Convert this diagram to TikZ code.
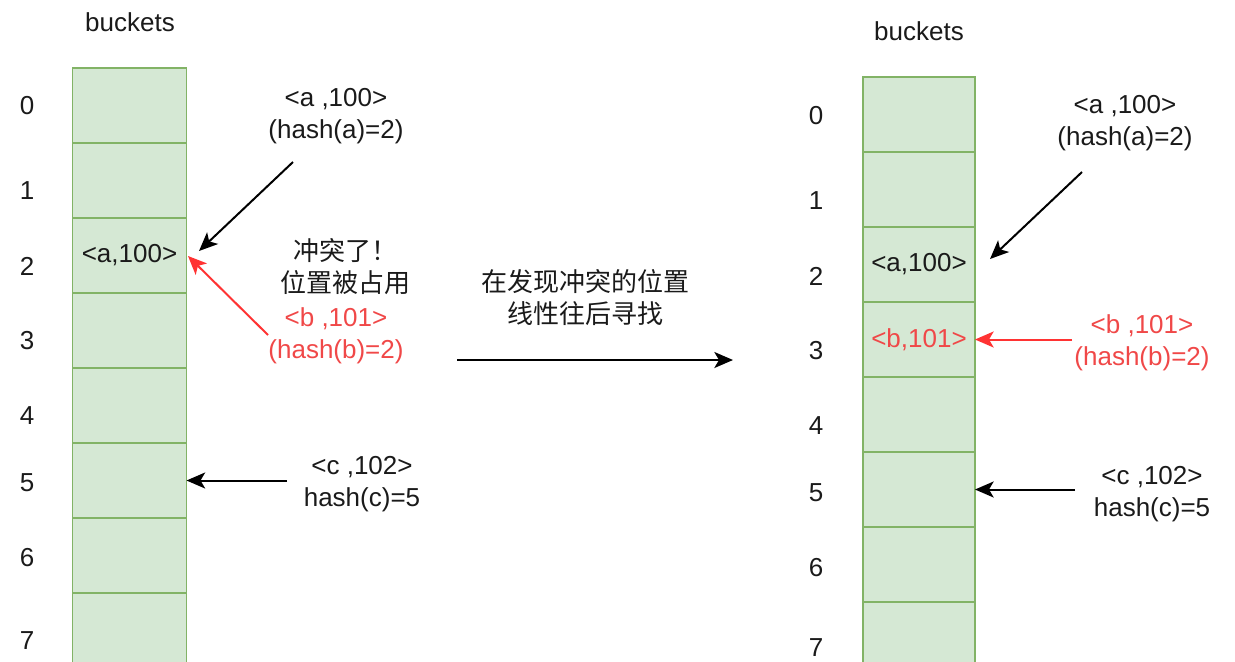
\documentclass[tikz,border=0pt]{standalone}
\usepackage{fontspec}
\setmainfont{Liberation Sans}
\newfontfamily\cjk{Noto Sans CJK SC}
\usetikzlibrary{arrows.meta}
\definecolor{cellfill}{HTML}{D5E8D4}
\definecolor{celldraw}{HTML}{82B366}
\definecolor{myred}{HTML}{FF3333}
\definecolor{redtext}{HTML}{F04848}
\definecolor{txt}{HTML}{1A1A1A}
\tikzset{
  cellL/.style={draw=celldraw, fill=cellfill, line width=1.3pt, minimum width=85.5pt, minimum height=56.25pt, inner sep=0pt, outer sep=0pt, font=\fontsize{19.5}{23}\selectfont, text=txt},
  cellR/.style={cellL, minimum width=84pt},
  lbl/.style={font=\fontsize{19.5}{24}\selectfont, text=txt, align=center, inner sep=0pt},
  rlbl/.style={lbl, text=redtext},
  arr/.style={line width=1.5pt, -{Stealth[length=14pt,width=12pt,inset=3.5pt]}},
  rarr/.style={arr, draw=myred, -{Stealth[length=14pt,width=12pt,inset=3.5pt,fill=myred]}}
}
\begin{document}
\begin{tikzpicture}[x=0.75pt,y=-0.75pt]
\useasboundingbox (0,0) rectangle (1235,661);
\clip (0,0) rectangle (1235,661);
% left column
\node[lbl] (bl) at (130,22) {buckets};
\foreach \i/\y in {0/105.5,1/180.5,2/255.5,3/330.5,4/405.5,5/480.5,6/555.5,7/630.5}{
  \node[cellL] (L\i) at (129.5,\y) {};
}
\node[lbl] at (L2) {<a,100>};
\foreach \i/\y in {0/106,1/191,2/266,3/341,4/416,5/483,6/558,7/641}{
  \node[lbl] (il\i) at (27,\y) {\i};
}
% right column
\node[lbl] (br) at (919,31) {buckets};
\foreach \i/\y in {0/114.5,1/189.5,2/264.5,3/339.5,4/414.5,5/489.5,6/564.5,7/639.5}{
  \node[cellR] (R\i) at (919,\y) {};
}
\node[lbl] at (R2) {<a,100>};
\node[rlbl] at (R3) {<b,101>};
\foreach \i/\y in {0/116,1/201,2/276,3/351,4/426,5/493,6/568,7/648}{
  \node[lbl] (ir\i) at (816,\y) {\i};
}
% left texts
\node[lbl] (ta) at (336,116) {<a ,100>\\(hash(a)=2)};
\node[lbl] (tc) at (345,267) {\cjk 冲突了！\\\cjk 位置被占用};
\node[rlbl] (tb) at (336,336) {<b ,101>\\(hash(b)=2)};
\node[lbl] (tcc) at (362,484) {<c ,102>\\hash(c)=5};
% middle
\node[lbl] (tm) at (585,298) {\cjk 在发现冲突的位置\\\cjk 线性往后寻找};
\coordinate (m1) at (457,360);
\coordinate (m2) at (733,360);
\draw[arr] (m1) -- (m2);
% right texts
\node[lbl] (rta) at (1125,123) {<a ,100>\\(hash(a)=2)};
\node[rlbl] (rtb) at (1142,343) {<b ,101>\\(hash(b)=2)};
\node[lbl] (rtc) at (1152,494) {<c ,102>\\hash(c)=5};
% left arrows
\coordinate (a1) at (293,162);
\coordinate (a2) at (199,251);
\draw[arr] (a1) -- (a2);
\coordinate (b1) at (268,335);
\coordinate (b2) at (188,256);
\draw[rarr] (b1) -- (b2);
\coordinate (c1) at (287,480.5);
\draw[arr] (c1) -- (L5.east);
% right arrows
\coordinate (ra1) at (1082,172);
\coordinate (ra2) at (990,259);
\draw[arr] (ra1) -- (ra2);
\coordinate (rb1) at (1072,339.5);
\draw[rarr] (rb1) -- (R3.east);
\coordinate (rc1) at (1075,489.5);
\draw[arr] (rc1) -- (R5.east);
\end{tikzpicture}
\end{document}
